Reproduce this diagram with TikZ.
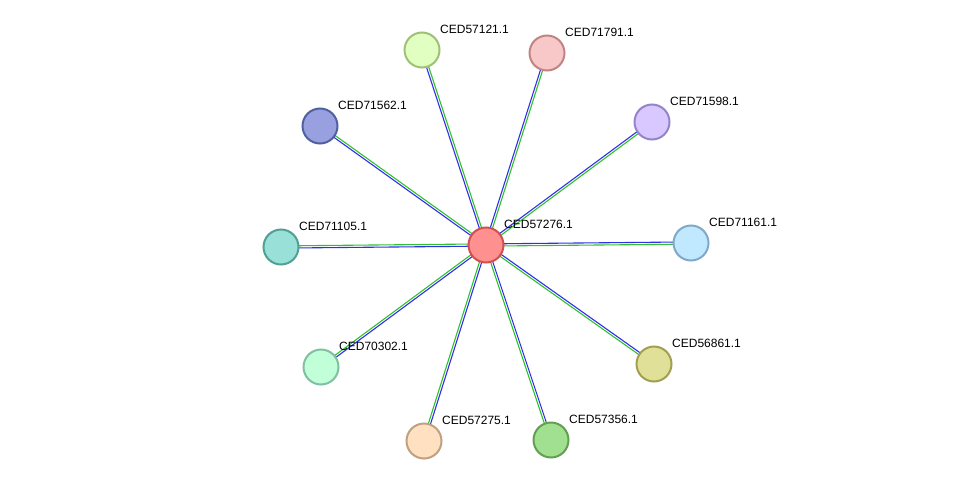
\documentclass[tikz,border=0pt]{standalone}
\usepackage{fontspec}
\setmainfont{Liberation Sans}
\usetikzlibrary{calc}
\begin{document}
\begin{tikzpicture}[x=1pt,y=-1pt,
  prot/.style={circle,draw,line width=2pt,minimum size=35pt,inner sep=0pt},
  lab/.style={anchor=west,font=\fontsize{12pt}{13pt}\selectfont,inner sep=0pt}]
\useasboundingbox (0,0) rectangle (976,487);
\definecolor{eblue}{HTML}{3030E8}\definecolor{egreen}{HTML}{30C030}
\foreach \n/\x/\y in {c/486/245,a/422/50,b/547/53,d/652/122,e/320/126,f/281/247,g/691/243,h/321/367,i/654/364,j/424/441,k/551/440}
  \coordinate (p\n) at (\x,\y);
\foreach \n in {a,b,d,e,f,g,h,i,j,k}{
  \draw[eblue,line width=1.1pt] ($(pc)!1.1pt!90:(p\n)$) -- ($(p\n)!1.1pt!-90:(pc)$);
  \draw[egreen,line width=1.1pt] ($(pc)!1.1pt!-90:(p\n)$) -- ($(p\n)!1.1pt!90:(pc)$);
}
\foreach \n/\f/\d/\t in {c/ff9090/d05050/CED57276.1,a/e0ffc0/a0c078/CED57121.1,b/f8c8c8/c08484/CED71791.1,d/d8c8ff/9484c8/CED71598.1,e/98a0e0/5060a0/CED71562.1,f/98e0d8/50a094/CED71105.1,g/c0e8ff/80a8c8/CED71161.1,h/c0ffd8/80c0a0/CED70302.1,i/e0e098/a0a050/CED56861.1,j/ffe0c0/c0a080/CED57275.1,k/a0e090/60a050/CED57356.1}{
  \definecolor{f\n}{HTML}{\f}\definecolor{d\n}{HTML}{\d}
  \node[prot,fill=f\n,draw=d\n] (\n) at (p\n) {};
  \node[lab] (l\n) at ($(p\n)+(18,-21)$) {\t};
}
\end{tikzpicture}
\end{document}
